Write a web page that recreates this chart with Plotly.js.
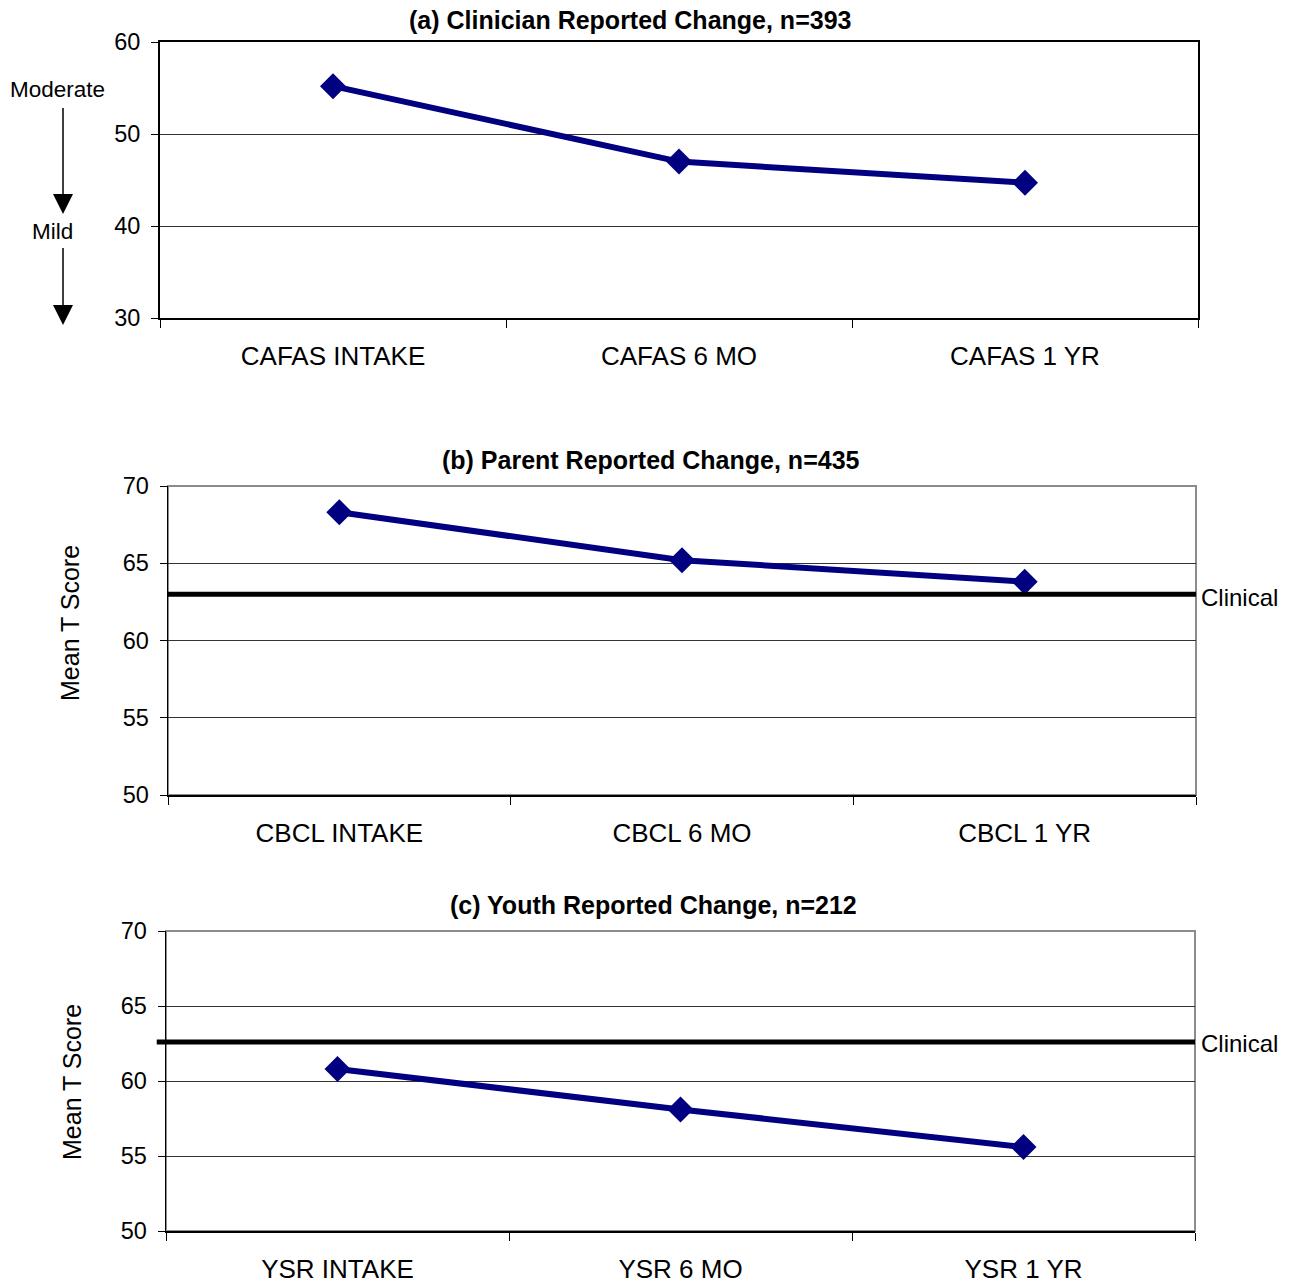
<!DOCTYPE html>
<html>
<head>
<meta charset="utf-8">
<script src="https://cdn.plot.ly/plotly-3.0.1.min.js"></script>
<style>html,body{margin:0;padding:0;background:#fff;}#chart{width:1294px;height:1285px;}</style>
</head>
<body>
<div id="chart"></div>
<script>
// ---- data ----
const catsA = ["CAFAS INTAKE", "CAFAS 6 MO", "CAFAS 1 YR"];
const valsA = [55.2, 47.0, 44.7];
const catsB = ["CBCL INTAKE", "CBCL 6 MO", "CBCL 1 YR"];
const valsB = [68.3, 65.2, 63.8];
const clinicalB = 63.0;
const catsC = ["YSR INTAKE", "YSR 6 MO", "YSR 1 YR"];
const valsC = [60.8, 58.1, 55.6];
const clinicalC = 62.6;
const titles = ["(a) Clinician Reported Change, n=393", "(b) Parent Reported Change, n=435", "(c) Youth Reported Change, n=212"];

const W = 1294, H = 1285;
const px = x => x / W;
const py = y => 1 - y / H;
const FONT = "Liberation Sans, Arial, sans-serif";
const NAVY = "#000080";

function trace(cats, vals, xa, ya) {
  return {
    x: cats, y: vals, xaxis: xa, yaxis: ya, type: "scatter", mode: "lines+markers",
    line: {color: NAVY, width: 6},
    marker: {symbol: "diamond", size: 20, color: NAVY},
    hoverinfo: "skip", showlegend: false
  };
}

const data = [
  trace(catsA, valsA, "x", "y"),
  trace(catsB, valsB, "x2", "y2"),
  trace(catsC, valsC, "x3", "y3")
];

function xax(l, r, anchor, mirror, lw) {
  return {
    domain: [px(l), px(r)], anchor: anchor, type: "category", range: [-0.5, 2.5],
    tickson: "boundaries", ticks: "outside", ticklen: 8, tickcolor: "#000", tickwidth: 1,
    showline: true, linecolor: "#000", linewidth: lw, mirror: mirror,
    showgrid: false, zeroline: false, fixedrange: true,
    tickfont: {family: FONT, size: 26, color: "#000"}, ticklabelstandoff: 14
  };
}
function yax(t, b, anchor, rng, dt, mirror, lw) {
  return {
    domain: [py(b), py(t)], anchor: anchor, range: rng, dtick: dt, tick0: rng[0],
    ticks: "outside", ticklen: 7, tickcolor: "#000", tickwidth: 1,
    showline: true, linecolor: "#000", linewidth: lw, mirror: mirror,
    showgrid: true, gridcolor: "#333", gridwidth: 1, zeroline: false, fixedrange: true,
    tickfont: {family: FONT, size: 23.5, color: "#000"}, ticklabelstandoff: 6
  };
}

const shapes = [
  // gray frame for (b) and (c)
  {type: "rect", xref: "x2 domain", yref: "y2 domain", x0: 0, x1: 1, y0: 0, y1: 1, line: {color: "#8c8c8c", width: 2}, layer: "below"},
  {type: "rect", xref: "x3 domain", yref: "y3 domain", x0: 0, x1: 1, y0: 0, y1: 1, line: {color: "#8c8c8c", width: 2}, layer: "below"},
  // clinical lines
  {type: "line", xref: "x2 domain", yref: "y2", x0: 0, x1: 1, y0: clinicalB, y1: clinicalB, line: {color: "#000", width: 5}},
  {type: "line", xref: "x3 domain", yref: "y3", x0: -0.009, x1: 1, y0: clinicalC, y1: clinicalC, line: {color: "#000", width: 5}},
  // arrows (Moderate -> Mild)
  {type: "line", xref: "paper", yref: "paper", x0: px(63), x1: px(63), y0: py(108), y1: py(196), line: {color: "#000", width: 1.5}},
  {type: "path", xref: "paper", yref: "paper", path: `M ${px(53)} ${py(194)} L ${px(73)} ${py(194)} L ${px(63)} ${py(214)} Z`, fillcolor: "#000", line: {color: "#000", width: 0}},
  {type: "line", xref: "paper", yref: "paper", x0: px(63), x1: px(63), y0: py(248), y1: py(307), line: {color: "#000", width: 1.5}},
  {type: "path", xref: "paper", yref: "paper", path: `M ${px(53)} ${py(305)} L ${px(73)} ${py(305)} L ${px(63)} ${py(325)} Z`, fillcolor: "#000", line: {color: "#000", width: 0}}
];

function ann(text, x, y, opts) {
  return Object.assign({text: text, xref: "paper", yref: "paper", x: px(x), y: py(y), showarrow: false,
    xanchor: "center", yanchor: "middle", font: {family: FONT, size: 24, color: "#000"}}, opts || {});
}

const annotations = [
  ann("<b>" + titles[0] + "</b>", 630, 20, {font: {family: FONT, size: 25, color: "#000"}}),
  ann("<b>" + titles[1] + "</b>", 651, 460, {font: {family: FONT, size: 25, color: "#000"}}),
  ann("<b>" + titles[2] + "</b>", 653, 905, {font: {family: FONT, size: 25, color: "#000"}}),
  ann("Moderate", 57, 90, {font: {family: FONT, size: 22.5, color: "#000"}}),
  ann("Mild", 52, 231, {font: {family: FONT, size: 22.5, color: "#000"}}),
  ann("Mean T Score", 70, 623, {textangle: -90, font: {family: FONT, size: 25, color: "#000"}}),
  ann("Mean T Score", 72, 1082, {textangle: -90, font: {family: FONT, size: 25, color: "#000"}}),
  ann("Clinical", 1199, 597, {xanchor: "left"}),
  ann("Clinical", 1199, 1043, {xanchor: "left"})
];

const layout = {
  width: W, height: H, margin: {l: 0, r: 0, t: 0, b: 0},
  paper_bgcolor: "#fff", plot_bgcolor: "#fff", showlegend: false,
  font: {family: FONT, color: "#000"},
  xaxis: xax(160, 1198, "y", true, 2),
  yaxis: yax(42, 318, "x", [30, 60], 10, true, 2),
  xaxis2: xax(168, 1196, "y2", false, 1.5),
  yaxis2: yax(486, 795, "x2", [50, 70], 5, false, 1.5),
  xaxis3: xax(166, 1195, "y3", false, 1.5),
  yaxis3: yax(931, 1231, "x3", [50, 70], 5, false, 1.5),
  shapes: shapes,
  annotations: annotations
};

Plotly.newPlot("chart", data, layout, {staticPlot: true, displayModeBar: false});
</script>
</body>
</html>
